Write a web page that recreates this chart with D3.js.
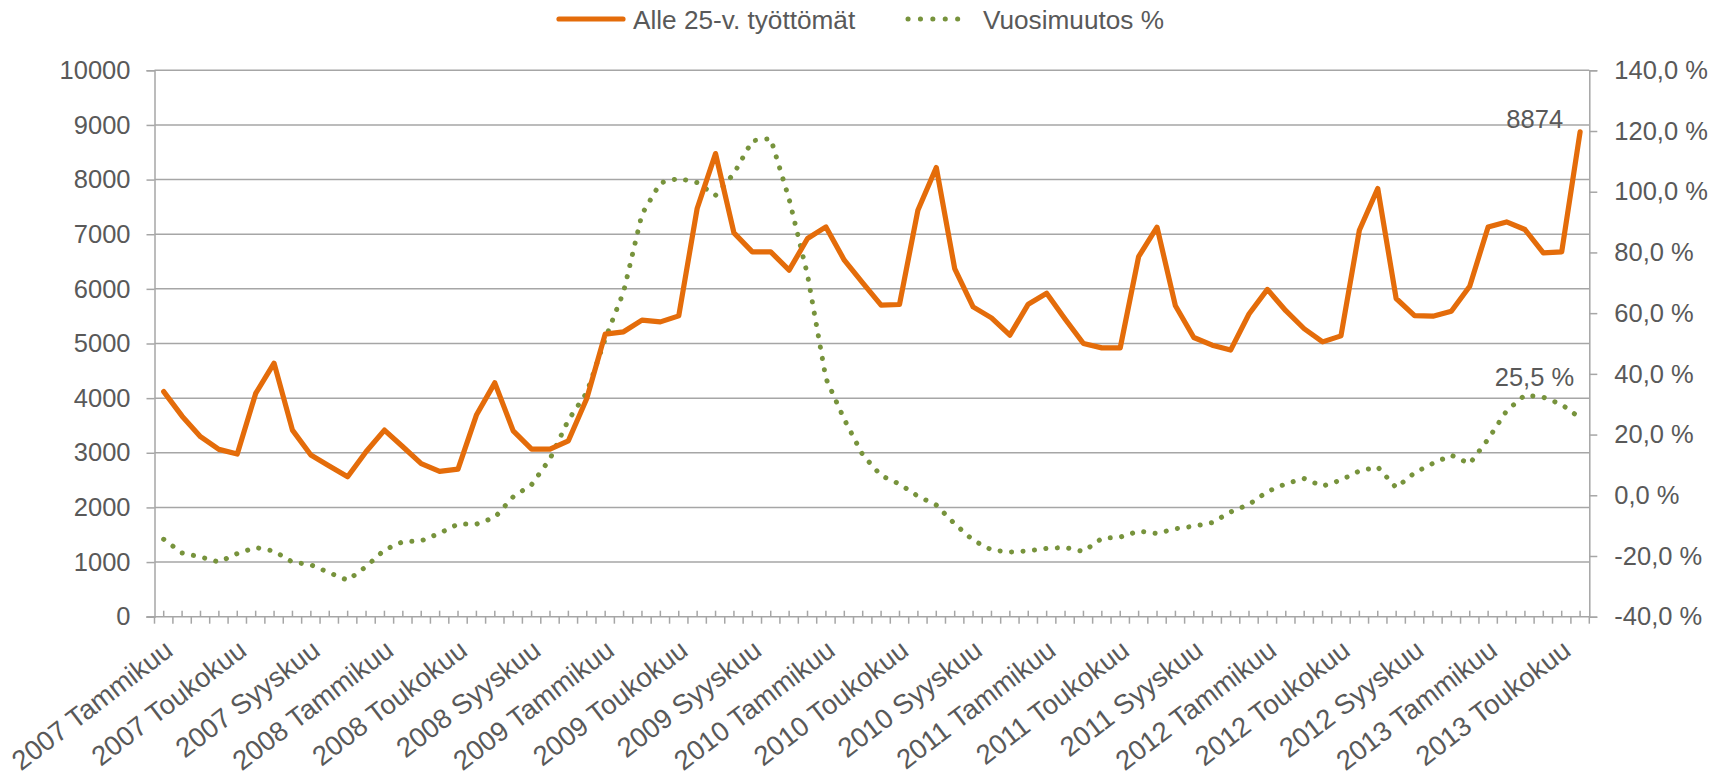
<!DOCTYPE html>
<html>
<head>
<meta charset="utf-8">
<script src="https://cdn.jsdelivr.net/npm/d3@7"></script>
<style>
  html, body { margin: 0; padding: 0; background: #fff; }
  svg { display: block; font-family: "Liberation Sans", Arial, sans-serif; }
</style>
</head>
<body>
<svg id="chart" width="1726" height="776"></svg>
<script>
// ---- data ----
const years = [2007, 2008, 2009, 2010, 2011, 2012, 2013];
const monthNames = ["Tammikuu","Helmikuu","Maaliskuu","Huhtikuu","Toukokuu","Kesäkuu",
                    "Heinäkuu","Elokuu","Syyskuu","Lokakuu","Marraskuu","Joulukuu"];
const lastYearMonths = 6; // 2013: Tammikuu..Kesäkuu
const categories = years.flatMap(y => (y === 2013 ? monthNames.slice(0, lastYearMonths) : monthNames).map(m => y + " " + m));

const unemployed = [
  4120, 3670, 3295, 3062, 2976, 4086, 4640, 3415, 2958, 2757,
  2561, 3018, 3415, 3110, 2800, 2660, 2700, 3690, 4280, 3400,
  3067, 3067, 3220, 3994, 5171, 5214, 5427, 5396, 5506, 7470,
  8476, 7024, 6677, 6677, 6342, 6921, 7134, 6525, 6110, 5702,
  5714, 7439, 8220, 6372, 5670, 5469, 5153, 5720, 5920, 5450,
  5000, 4920, 4920, 6590, 7130, 5690, 5110, 4970, 4880, 5540,
  5990, 5600, 5270, 5030, 5140, 7073, 7836, 5824, 5510, 5500,
  5590, 6049, 7134, 7225, 7086, 6658, 6676, 8874
];
const yoyChange = [
  -14.5, -19.0, -20.3, -22.0, -19.2, -17.2, -18.4, -22.0, -22.9, -25.5,
  -28.0, -23.5, -18.0, -15.3, -15.0, -12.5, -9.5, -9.5, -7.3, -0.5,
  3.5, 12.0, 24.8, 33.8, 51.5, 67.0, 92.6, 102.9, 104.4, 103.0,
  98.8, 106.0, 116.8, 117.5, 97.6, 72.6, 38.5, 25.0, 13.3, 6.5,
  3.7, -0.3, -3.2, -9.4, -14.8, -18.0, -18.7, -18.3, -17.5, -17.2,
  -18.5, -14.2, -13.8, -11.8, -12.6, -11.0, -10.2, -9.0, -5.5, -3.0,
  1.2, 3.8, 5.5, 3.0, 5.0, 8.0, 9.3, 2.5, 7.4, 10.5,
  13.2, 10.4, 18.5, 27.8, 33.0, 32.3, 29.9, 25.5
];
const leftTicks = [0, 1000, 2000, 3000, 4000, 5000, 6000, 7000, 8000, 9000, 10000];
const rightTicks = [-40, -20, 0, 20, 40, 60, 80, 100, 120, 140];
const labelEvery = 4;
const seriesNames = ["Alle 25-v. työttömät", "Vuosimuutos %"];

// ---- layout ----
const W = 1726, H = 776;
const L = 154.5, R = 1589.3, T = 70.3, B = 616.7;
const ORANGE = "#E46C0A", GREEN = "#77933C", GRID = "#A6A6A6", TEXT = "#595959";
const FS = 25.5;

const svg = d3.select("#chart");
svg.append("rect").attr("width", W).attr("height", H).attr("fill", "#fff");

const x = d3.scaleBand().domain(categories).range([L, R]).paddingInner(0).paddingOuter(0);
const bw = x.bandwidth();
const cx = c => x(c) + bw / 2;
const yL = d3.scaleLinear().domain([0, 10000]).range([B, T]);
const yR = d3.scaleLinear().domain([-40, 140]).range([B, T]);

const fmtPct = v => d3.format(".1f")(v).replace(".", ",").replace("−", "-") + " %";

// gridlines
svg.append("g").selectAll("line").data(leftTicks.filter(v => v > 0)).join("line")
  .attr("x1", L).attr("x2", R).attr("y1", d => yL(d)).attr("y2", d => yL(d))
  .attr("stroke", GRID).attr("stroke-width", 1.5);

// left axis
const gLeft = svg.append("g").attr("transform", `translate(${L},0)`)
  .call(d3.axisLeft(yL).tickValues(leftTicks).tickSize(8).tickPadding(16).tickFormat(d3.format("d")));
gLeft.select(".domain").attr("stroke", GRID).attr("stroke-width", 1.5);
gLeft.selectAll(".tick line").attr("stroke", GRID).attr("stroke-width", 1.5);
gLeft.selectAll(".tick text").attr("fill", TEXT).attr("font-size", FS)
  .attr("font-family", "Liberation Sans, Arial, sans-serif");

// right axis
const gRight = svg.append("g").attr("transform", `translate(${R},0)`)
  .call(d3.axisRight(yR).tickValues(rightTicks).tickSize(8).tickPadding(17).tickFormat(fmtPct));
gRight.select(".domain").attr("stroke", GRID).attr("stroke-width", 1.5);
gRight.selectAll(".tick line").attr("stroke", GRID).attr("stroke-width", 1.5);
gRight.selectAll(".tick text").attr("fill", TEXT).attr("font-size", FS)
  .attr("font-family", "Liberation Sans, Arial, sans-serif");

// bottom axis line + ticks
const gBottom = svg.append("g");
gBottom.append("line").attr("x1", L - 8).attr("x2", R).attr("y1", B).attr("y2", B)
  .attr("stroke", GRID).attr("stroke-width", 1.5);
const boundaries = categories.map(c => x(c)).concat([x(categories[categories.length - 1]) + bw]);
gBottom.selectAll("line.bt").data(boundaries).join("line").attr("class", "bt")
  .attr("x1", d => d).attr("x2", d => d).attr("y1", B).attr("y2", B + 7)
  .attr("stroke", GRID).attr("stroke-width", 1.5);
gBottom.selectAll("line.ct").data(categories).join("line").attr("class", "ct")
  .attr("x1", d => cx(d)).attr("x2", d => cx(d)).attr("y1", B).attr("y2", B - 6)
  .attr("stroke", GRID).attr("stroke-width", 1.5);

// category labels
const labeled = categories.filter((c, i) => i % labelEvery === 0);
gBottom.selectAll("text.cl").data(labeled).join("text").attr("class", "cl")
  .attr("transform", d => `translate(${cx(d) + 11},${B + 37}) rotate(-37.5)`)
  .attr("text-anchor", "end").attr("fill", TEXT).attr("font-size", 27.5)
  .text(d => d);

// series
const lineL = d3.line().x((d, i) => cx(categories[i])).y(d => yL(d));
const lineR = d3.line().x((d, i) => cx(categories[i])).y(d => yR(d));

svg.append("path").datum(yoyChange).attr("d", lineR)
  .attr("fill", "none").attr("stroke", GREEN).attr("stroke-width", 5)
  .attr("stroke-linecap", "round").attr("stroke-dasharray", "0.1 11.4");

svg.append("path").datum(unemployed).attr("d", lineL)
  .attr("fill", "none").attr("stroke", ORANGE).attr("stroke-width", 5.2)
  .attr("stroke-linejoin", "round").attr("stroke-linecap", "round");

// data labels for last points
const lastI = categories.length - 1;
svg.append("text").attr("x", cx(categories[lastI]) - 17).attr("y", yL(unemployed[lastI]) - 4)
  .attr("text-anchor", "end").attr("fill", TEXT).attr("font-size", FS)
  .text(d3.format("d")(unemployed[lastI]));
svg.append("text").attr("x", cx(categories[lastI]) - 6).attr("y", yR(yoyChange[lastI]) - 32)
  .attr("text-anchor", "end").attr("fill", TEXT).attr("font-size", FS)
  .text(fmtPct(yoyChange[lastI]));

// legend
const leg = svg.append("g");
leg.append("line").attr("x1", 559).attr("x2", 623).attr("y1", 19).attr("y2", 19)
  .attr("stroke", ORANGE).attr("stroke-width", 5.2).attr("stroke-linecap", "round");
leg.append("text").attr("x", 633).attr("y", 28.5).attr("fill", TEXT).attr("font-size", 26.2).text(seriesNames[0]);
leg.append("line").attr("x1", 908).attr("x2", 970).attr("y1", 19).attr("y2", 19)
  .attr("stroke", GREEN).attr("stroke-width", 5).attr("stroke-linecap", "round")
  .attr("stroke-dasharray", "0.1 12.3");
leg.append("text").attr("x", 983).attr("y", 28.5).attr("fill", TEXT).attr("font-size", 26.2).text(seriesNames[1]);
</script>
</body>
</html>
